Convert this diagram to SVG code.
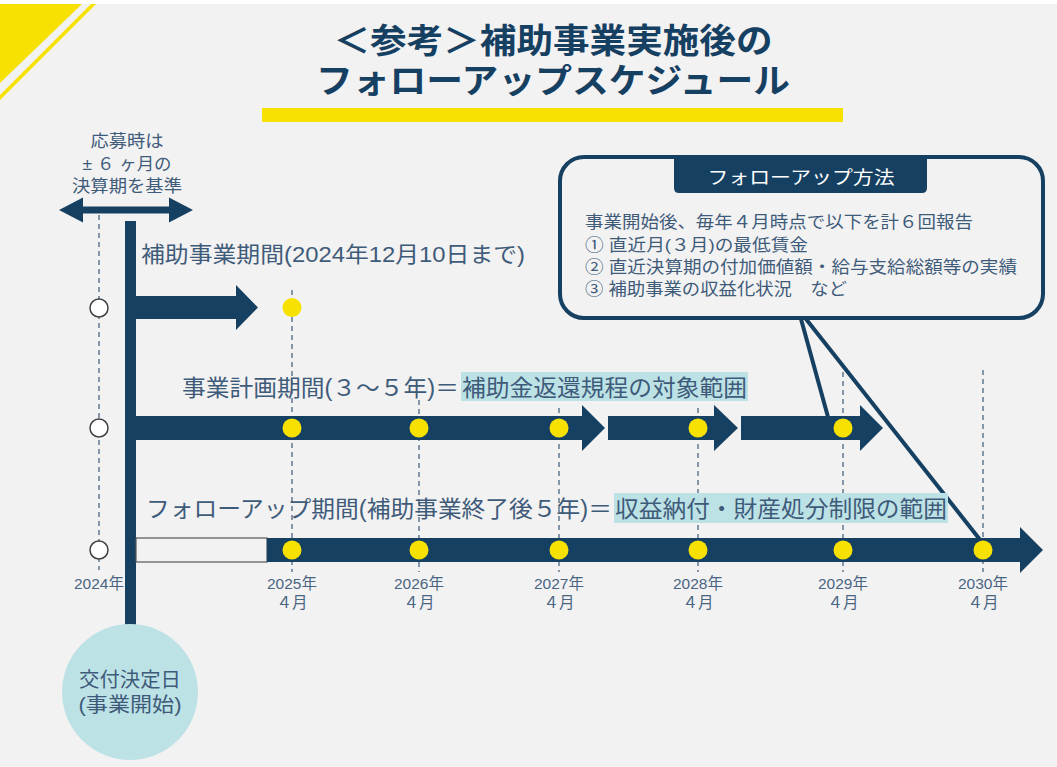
<svg xmlns="http://www.w3.org/2000/svg" width="1057" height="767" viewBox="0 0 1057 767">
<style>
text{font-family:"Liberation Sans","Noto Sans CJK JP",sans-serif}
.navy{fill:#164062}
.lbl{fill:#3f5b7a}
.yr{fill:#4a6582;font-size:15.5px;text-anchor:middle}
.dash{stroke:#4a6582;stroke-width:1.3;stroke-dasharray:5 4;fill:none}
.dot{fill:#f7e100}
.open{fill:#ffffff;stroke:#404040;stroke-width:1.5}
.hl{fill:#bde2e6}
.tail{stroke:#164062;stroke-width:4;fill:none}
</style>
<rect x="0" y="0" width="1057" height="767" fill="#ffffff"/>
<rect x="0" y="4" width="1057" height="763" fill="#f2f2f2"/>
<g id="corner">
<polygon points="0,4 82,4 0,83" fill="#f7e100"/>
<polygon points="91,4 96,4 0,100 0,95" fill="#f7e100"/>
</g>
<g id="title">
<text font-size="34" font-weight="bold" fill="#164062" text-anchor="middle"><tspan x="553" y="53" textLength="439" lengthAdjust="spacingAndGlyphs">＜参考＞補助事業実施後の</tspan><tspan x="553" y="93" textLength="474" lengthAdjust="spacingAndGlyphs">フォローアップスケジュール</tspan></text>
<rect x="262" y="108" width="581" height="14" fill="#f7e100"/>
</g>
<g id="guides">
<line class="dash" x1="99" y1="215" x2="99" y2="570"/>
<line class="dash" x1="292" y1="290" x2="292" y2="572"/>
<line class="dash" x1="419" y1="400" x2="419" y2="572"/>
<line class="dash" x1="559" y1="408" x2="559" y2="572"/>
<line class="dash" x1="698" y1="408" x2="698" y2="572"/>
<line class="dash" x1="843" y1="372" x2="843" y2="572"/>
<line class="dash" x1="983" y1="370" x2="983" y2="572"/>
</g>
<g id="basis">
<text class="lbl" font-size="17" text-anchor="middle"><tspan x="127" y="147" textLength="73" lengthAdjust="spacingAndGlyphs">応募時は</tspan><tspan x="127" y="170" textLength="89" lengthAdjust="spacingAndGlyphs">± ６ ヶ月の</tspan><tspan x="127" y="192" textLength="110" lengthAdjust="spacingAndGlyphs">決算期を基準</tspan></text>
<polygon class="navy" points="59,210 83,197.5 83,206.5 169,206.5 169,197.5 193,210 169,222.5 169,213.5 83,213.5 83,222.5"/>
</g>
<g id="axis">
<rect class="navy" x="125" y="221" width="11" height="410"/>
</g>
<g id="connectors">
<polygon class="navy" points="136,296 236,296 236,285 258,307.5 236,330 236,319 136,319"/>
<polygon class="navy" points="136,416 582,416 582,405 605,428 582,451 582,440 136,440"/>
<polygon class="navy" points="608,416 714,416 714,405 738,428 714,451 714,440 608,440"/>
<polygon class="navy" points="741,416 860,416 860,405 883,428 860,451 860,440 741,440"/>
<rect x="136" y="538" width="131" height="24" fill="#f2f2f2" stroke="#555555" stroke-width="1.2"/>
<polygon class="navy" points="267,538 1020,538 1020,527 1043,550 1020,573 1020,562 267,562"/>
<line class="tail" x1="801" y1="319" x2="828" y2="417"/>
<line class="tail" x1="806" y1="319" x2="981" y2="541"/>
</g>
<g id="row1">
<text class="lbl" x="141" y="262" font-size="22" textLength="384" lengthAdjust="spacingAndGlyphs">補助事業期間(2024年12月10日まで)</text>
<circle class="open" cx="99" cy="308" r="9"/>
<circle class="dot" cx="292" cy="307.5" r="9.5"/>
</g>
<g id="row2">
<rect class="hl" x="461" y="372" width="287" height="29"/>
<text class="lbl" x="182" y="396" font-size="23" textLength="277" lengthAdjust="spacingAndGlyphs">事業計画期間(３〜５年)＝</text>
<text class="lbl" x="462" y="396" font-size="23" textLength="285" lengthAdjust="spacingAndGlyphs">補助金返還規程の対象範囲</text>
<circle class="open" cx="99" cy="428" r="9"/>
<circle class="dot" cx="292" cy="428" r="9.5"/>
<circle class="dot" cx="419" cy="428" r="9.5"/>
<circle class="dot" cx="559" cy="428" r="9.5"/>
<circle class="dot" cx="698" cy="428" r="9.5"/>
<circle class="dot" cx="843" cy="428" r="9.5"/>
</g>
<g id="row3">
<rect class="hl" x="614" y="493" width="334" height="30"/>
<text class="lbl" x="146" y="517" font-size="23" textLength="466" lengthAdjust="spacingAndGlyphs">フォローアップ期間(補助事業終了後５年)＝</text>
<text class="lbl" x="615" y="517" font-size="23" textLength="332" lengthAdjust="spacingAndGlyphs">収益納付・財産処分制限の範囲</text>
<circle class="open" cx="99" cy="550" r="9"/>
<circle class="dot" cx="292" cy="550" r="9.5"/>
<circle class="dot" cx="419" cy="550" r="9.5"/>
<circle class="dot" cx="559" cy="550" r="9.5"/>
<circle class="dot" cx="698" cy="550" r="9.5"/>
<circle class="dot" cx="843" cy="550" r="9.5"/>
<circle class="dot" cx="983" cy="550" r="9.5"/>
</g>
<g id="years">
<text class="yr" x="99" y="589">2024年</text>
<text class="yr"><tspan x="292" y="589">2025年</tspan><tspan x="292" y="608">４月</tspan></text>
<text class="yr"><tspan x="419" y="589">2026年</tspan><tspan x="419" y="608">４月</tspan></text>
<text class="yr"><tspan x="559" y="589">2027年</tspan><tspan x="559" y="608">４月</tspan></text>
<text class="yr"><tspan x="698" y="589">2028年</tspan><tspan x="698" y="608">４月</tspan></text>
<text class="yr"><tspan x="843" y="589">2029年</tspan><tspan x="843" y="608">４月</tspan></text>
<text class="yr"><tspan x="983" y="589">2030年</tspan><tspan x="983" y="608">４月</tspan></text>
</g>
<g id="start">
<circle cx="130" cy="692" r="68" fill="#bde2e6"/>
<text class="lbl" font-size="20" text-anchor="middle"><tspan x="130" y="687" textLength="102" lengthAdjust="spacingAndGlyphs">交付決定日</tspan><tspan x="130" y="712" textLength="103" lengthAdjust="spacingAndGlyphs">(事業開始)</tspan></text>
</g>
<g id="method">
<rect x="560" y="157" width="483" height="161" rx="24" ry="24" fill="#f2f2f2" stroke="#164062" stroke-width="4"/>
<path class="navy" d="M674,155 H927 V188 Q927,193 922,193 H679 Q674,193 674,188 Z"/>
<text x="801" y="184" font-size="18" fill="#ffffff" text-anchor="middle" textLength="187" lengthAdjust="spacingAndGlyphs">フォローアップ方法</text>
<text class="lbl" font-size="17"><tspan x="585" y="228" textLength="388" lengthAdjust="spacingAndGlyphs">事業開始後、毎年４月時点で以下を計６回報告</tspan><tspan x="585" y="251" textLength="223" lengthAdjust="spacingAndGlyphs">① 直近月(３月)の最低賃金</tspan><tspan x="585" y="273" textLength="432" lengthAdjust="spacingAndGlyphs">② 直近決算期の付加価値額・給与支給総額等の実績</tspan><tspan x="585" y="295" textLength="262" lengthAdjust="spacingAndGlyphs">③ 補助事業の収益化状況　など</tspan></text>
</g>
</svg>
